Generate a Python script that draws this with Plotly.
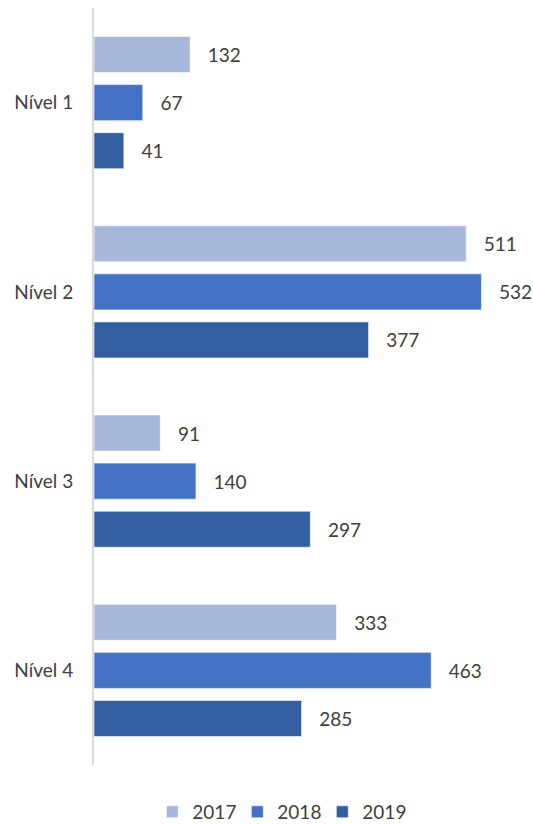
import plotly.graph_objects as go

categories = ["Nível 1", "Nível 2", "Nível 3", "Nível 4"]
years = ["2017", "2018", "2019"]
values_2017 = [132, 511, 91, 333]
values_2018 = [67, 532, 140, 463]
values_2019 = [41, 377, 297, 285]
colors = ["#a8b7dc", "#4472c4", "#345ea2"]

FONT = "Lato"
TXT = "#404040"
FS = 19

fig = go.Figure()
for name, vals, col in zip(years, [values_2017, values_2018, values_2019], colors):
    fig.add_trace(go.Bar(
        y=categories, x=vals, name=name, orientation="h",
        marker=dict(color=col, line=dict(color="rgba(255,255,255,0.6)", width=1)),
        text=[f"\u00a0\u00a0\u00a0{v}" for v in vals],
        textposition="outside", cliponaxis=False,
        textfont=dict(size=FS, color=TXT, family=FONT),
    ))

fig.update_layout(
    width=533, height=824,
    margin=dict(l=94, r=2, t=8, b=59),
    barmode="group", bargap=0.238, bargroupgap=0.25,
    plot_bgcolor="white", paper_bgcolor="white",
    font=dict(family=FONT, size=FS, color=TXT),
    xaxis=dict(range=[0, 600], showgrid=False, showticklabels=False, zeroline=False,
               showline=False, fixedrange=True),
    yaxis=dict(autorange="reversed", showline=True, linecolor="#d9d9d9", linewidth=2,
               ticks="", ticklabelstandoff=15, tickfont=dict(size=FS, color=TXT, family=FONT)),
    legend=dict(orientation="h", xref="container", yref="container",
                x=0.525, y=0.0146, xanchor="center", yanchor="middle",
                entrywidth=40, itemwidth=30,
                font=dict(size=FS, color=TXT, family=FONT), traceorder="normal"),
    showlegend=True,
)

fig.write_html("out.html")
